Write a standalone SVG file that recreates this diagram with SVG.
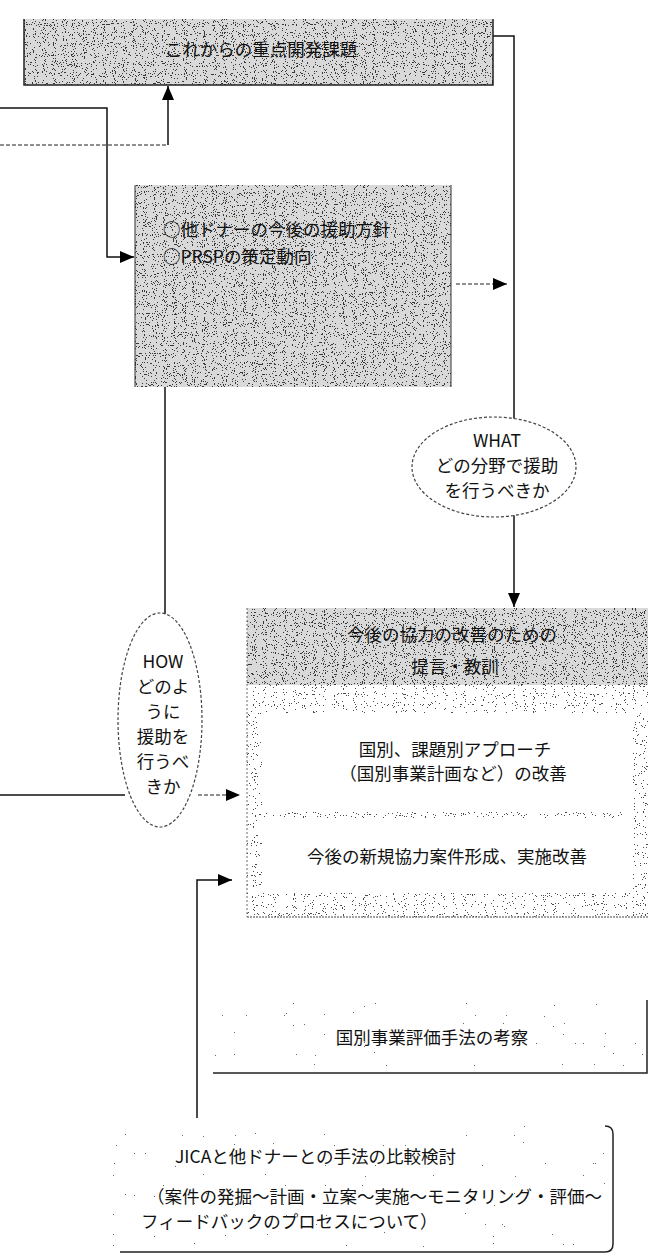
<svg xmlns="http://www.w3.org/2000/svg" width="650" height="1255" viewBox="0 0 650 1255">
<style>
text{font-family:"Noto Sans CJK JP","Noto Sans",sans-serif;font-size:17.5px;fill:#111}
.c{text-anchor:middle}
.ln{fill:none;stroke:#111;stroke-width:1.5}
.dl{fill:none;stroke:#222;stroke-width:1.2;stroke-dasharray:4 2}
.el{fill:#fff;stroke:#444;stroke-width:1.2;stroke-dasharray:3 2}
.base{fill:#d9d9d9}
</style>
<defs>
<marker id="ah" viewBox="0 0 14 12" refX="14" refY="6" markerWidth="14" markerHeight="12" markerUnits="userSpaceOnUse" orient="auto"><path d="M0,0 L14,6 L0,12 z" fill="#000"/></marker>
<filter id="dense" filterUnits="objectBoundingBox" x="0" y="0" width="1" height="1" color-interpolation-filters="sRGB">
<feTurbulence type="fractalNoise" baseFrequency="0.9" numOctaves="1" seed="4"/>
<feColorMatrix type="matrix" values="0 0 0 0 0.22  0 0 0 0 0.22  0 0 0 0 0.22  10 0 0 0 -5.8"/>
<feComponentTransfer><feFuncA type="discrete" tableValues="0 1"/></feComponentTransfer>
</filter>
<filter id="light" filterUnits="objectBoundingBox" x="0" y="0" width="1" height="1" color-interpolation-filters="sRGB">
<feTurbulence type="fractalNoise" baseFrequency="0.9" numOctaves="1" seed="7"/>
<feColorMatrix type="matrix" values="0 0 0 0 0.3  0 0 0 0 0.3  0 0 0 0 0.3  10 0 0 0 -6.2"/>
<feComponentTransfer><feFuncA type="discrete" tableValues="0 1"/></feComponentTransfer>
</filter>
<filter id="sparse" filterUnits="objectBoundingBox" x="0" y="0" width="1" height="1" color-interpolation-filters="sRGB">
<feTurbulence type="fractalNoise" baseFrequency="0.9" numOctaves="1" seed="11"/>
<feColorMatrix type="matrix" values="0 0 0 0 0.4  0 0 0 0 0.4  0 0 0 0 0.4  10 0 0 0 -7.3"/>
<feComponentTransfer><feFuncA type="discrete" tableValues="0 1"/></feComponentTransfer>
</filter>
</defs>
<rect width="650" height="1255" fill="#fff"/>

<g id="connectors">
<path class="ln" d="M0,108 H107 V257 H134" marker-end="url(#ah)"/>
<path class="dl" d="M0,145 H168"/>
<path class="ln" d="M168,145 V86" marker-end="url(#ah)"/>
<path class="ln" d="M493,36 H514 V420"/>
<path class="ln" d="M514,515 V607" marker-end="url(#ah)"/>
<path class="dl" d="M456,284 H507" marker-end="url(#ah)"/>
<path class="ln" d="M165,387 V615"/>
<path class="ln" d="M0,795 H125"/>
<path class="dl" d="M198,795 H240" marker-end="url(#ah)"/>
<path class="ln" d="M197,1118 V880 H232" marker-end="url(#ah)"/>
</g>

<g id="node-top">
<rect class="base" x="24" y="19" width="469" height="66"/>
<rect x="24" y="19" width="469" height="66" filter="url(#dense)"/>
<path d="M24,19 V85 H493 V19" fill="none" stroke="#222" stroke-width="1.5"/>
<text class="c" x="261" y="56">これからの重点開発課題</text>
</g>

<g id="node-middle">
<rect class="base" x="135" y="185" width="316" height="202"/>
<rect x="135" y="185" width="316" height="202" filter="url(#dense)"/>
<path d="M135,185 V387 M451,185 V387" fill="none" stroke="#333" stroke-width="1"/>
<text x="163" y="236">○他ドナーの今後の援助方針</text>
<text x="163" y="263">○PRSPの策定動向</text>
</g>

<g id="node-what">
<ellipse class="el" cx="494" cy="467" rx="82" ry="50"/>
<text class="c" x="497" y="447">WHAT</text>
<text class="c" x="497" y="472">どの分野で援助</text>
<text class="c" x="497" y="497">を行うべきか</text>
</g>

<g id="node-how">
<ellipse class="el" cx="160" cy="720" rx="42" ry="107"/>
<text class="c" x="163" y="668">HOW</text>
<text class="c" x="163" y="693">どのよ</text>
<text class="c" x="163" y="718">うに</text>
<text class="c" x="163" y="743">援助を</text>
<text class="c" x="163" y="768">行うべ</text>
<text class="c" x="163" y="793">きか</text>
</g>

<g id="node-lessons">
<rect x="247" y="685" width="401" height="232" filter="url(#light)"/>
<rect class="base" x="247" y="608" width="401" height="77"/>
<rect x="247" y="608" width="401" height="77" filter="url(#dense)"/>
<rect x="262" y="713" width="371" height="99" fill="#fff"/>
<rect x="262" y="818" width="371" height="75" fill="#fff"/>
<path d="M247,917 H648" fill="none" stroke="#444" stroke-width="1" stroke-dasharray="2 1"/>
<path d="M247,608 V917" fill="none" stroke="#666" stroke-width="1" stroke-dasharray="2 2"/>
<text class="c" x="452" y="641">今後の協力の改善のための</text>
<text class="c" x="455" y="673">提言・教訓</text>
<text class="c" x="455" y="756">国別、課題別アプローチ</text>
<text class="c" x="453" y="780">（国別事業計画など）の改善</text>
<text class="c" x="447" y="863">今後の新規協力案件形成、実施改善</text>
</g>

<g id="node-method">
<rect x="213" y="1000" width="434" height="73" filter="url(#sparse)"/>
<path d="M213,1073 H647 V1000" fill="none" stroke="#222" stroke-width="1.5"/>
<text class="c" x="432" y="1044">国別事業評価手法の考察</text>
</g>

<g id="node-compare">
<rect x="112" y="1126" width="501" height="126" filter="url(#sparse)"/>
<path d="M120,1252 H605 Q613,1252 613,1244 V1134 Q613,1126 605,1126" fill="none" stroke="#222" stroke-width="1.5"/>
<text x="175" y="1163">JICAと他ドナーとの手法の比較検討</text>
<text x="147" y="1203">（案件の発掘～計画・立案～実施～モニタリング・評価～</text>
<text x="141" y="1228">フィードバックのプロセスについて）</text>
</g>
</svg>
